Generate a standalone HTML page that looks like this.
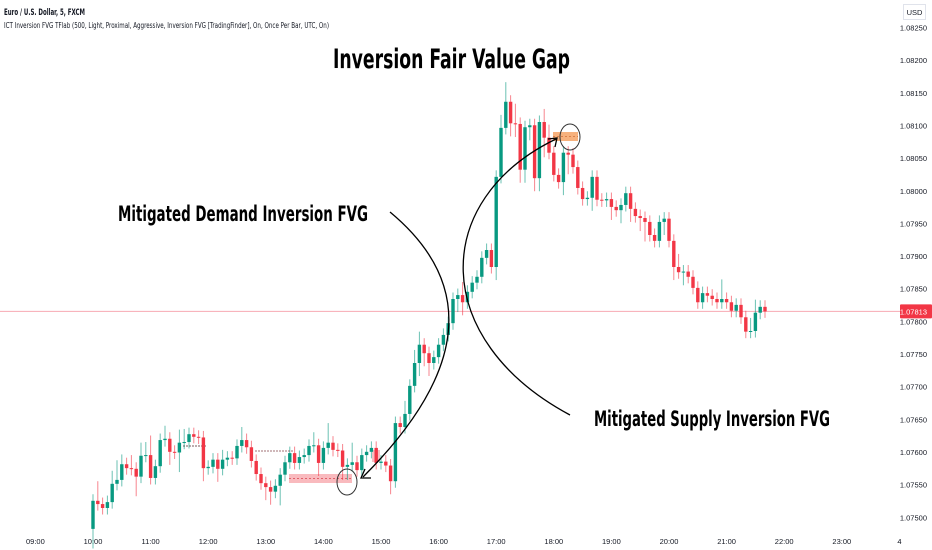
<!DOCTYPE html>
<html><head><meta charset="utf-8"><style>
html,body{margin:0;padding:0;background:#fff;}
svg{display:block;font-family:"Liberation Sans",sans-serif;}
</style></head><body>
<svg id="chart" width="932" height="550" viewBox="0 0 932 550">
<rect x="0" y="0" width="932" height="550" fill="#ffffff"/>
<g id="axes"></g>
<g id="zones"></g>
<g id="candles"></g>
<g id="annot"></g>
</svg>
<script>
const closes=[1.07523,1.07518,1.07512,1.07521,1.07549,1.07555,1.07579,1.07573,1.07572,1.07560,1.07592,1.07593,1.07558,1.07576,1.07616,1.07618,1.07598,1.07597,1.07612,1.07613,1.07625,1.07621,1.07620,1.07573,1.07575,1.07586,1.07572,1.07586,1.07589,1.07588,1.07607,1.07616,1.07605,1.07584,1.07564,1.07550,1.07544,1.07537,1.07546,1.07563,1.07582,1.07596,1.07581,1.07590,1.07593,1.07607,1.07608,1.07581,1.07604,1.07612,1.07601,1.07600,1.07575,1.07578,1.07582,1.07570,1.07593,1.07598,1.07604,1.07581,1.07583,1.07577,1.07553,1.07642,1.07636,1.07656,1.07699,1.07734,1.07762,1.07749,1.07734,1.07743,1.07762,1.07777,1.07795,1.07832,1.07838,1.07827,1.07843,1.07857,1.07866,1.07895,1.07907,1.07881,1.08019,1.08094,1.08134,1.08101,1.08100,1.08030,1.08095,1.08098,1.08017,1.08103,1.08079,1.08056,1.08022,1.08011,1.08056,1.08053,1.08034,1.08002,1.07985,1.07987,1.08019,1.07984,1.07983,1.07985,1.07973,1.07968,1.07976,1.07994,1.07970,1.07959,1.07956,1.07950,1.07930,1.07921,1.07950,1.07955,1.07921,1.07881,1.07873,1.07874,1.07866,1.07849,1.07827,1.07841,1.07837,1.07832,1.07827,1.07832,1.07827,1.07814,1.07823,1.07804,1.07782,1.07783,1.07811,1.07820,1.07813];
const firstOpen=1.07480;
const upWickPips=[1,3,1,1,2,3,1.5,1,2,1,2,2,3,1,1,2,1,1,2,2,1,1,1,1,1,1,1,1.5,1,1,1,2,1,1,1,1,1,1,1,1,1,1,1,1,1,1,2,1,1,3,1,1,1,1,3,1,1,1,1,1,1,1,1,1,1,2,1,2,2,1,1,1,1,1,1,1,1,2,1,1,1,1,1,1,1,2,3,1,3,1,1,1,1,1,2,2,1,1,1,1,1,1,1,1,1,1,1,1,1,1,1,1,1,1,1,1,1,1,1,1,1,1,2,1,1,1,1,1,1,1,1,3,1,1,1,1,1,2,2,1,1];
const downWickPips=[3,1,1,1,1,1,1,1,1,3,1,1,1,1,1,1,2,1,3,1,1,1,1,2,1,1,2,1,1,1,1,1,1,1,1,1,2,2,1,3,1,1,1,1,1,1,1,2,1,1,1,1,2,2,1,1,1,1,1,1,1,1,2,1,1,1,1,1,2,2,2,1,1,1,1,1,2,2,1,1,1,1,1,1,2,1,1,2,2,2,2,2,2,2,3,1,1,1,2,3,1,1,1,1,2,1,1,1,2,1,2,1,2,1,2,3,1,1,1,2,1,2,1,2,1,1,1,1,1,1,1,1,1,1,1,1,1,1,1,1,1];
const priceTicks=["1.08250","1.08200","1.08150","1.08100","1.08050","1.08000","1.07950","1.07900","1.07850","1.07800","1.07750","1.07700","1.07650","1.07600","1.07550","1.07500"];
const timeLabels=["09:00","10:00","11:00","12:00","13:00","14:00","15:00","16:00","17:00","18:00","19:00","20:00","21:00","22:00","23:00","4"];
const lastPrice=1.07813;

const NS="http://www.w3.org/2000/svg";
function yOf(p){return 26+(1.0825-p)*65310;}
function xOf(i){return 93+i*4.8;}
function hourX(k){return 35.4+k*57.6;}
function mk(tag,attrs,parent){const e=document.createElementNS(NS,tag);for(const k in attrs)e.setAttribute(k,attrs[k]);parent.appendChild(e);return e;}
const axes=document.getElementById('axes');
const cg=document.getElementById('candles');

priceTicks.forEach(t=>{
  const tx=mk('text',{x:927,y:yOf(parseFloat(t))+4.5,'font-size':'7.5','fill':'#131722','text-anchor':'end'},axes);
  tx.textContent=t;
  
  
});
timeLabels.forEach((t,k)=>{
  const tx=mk('text',{x:hourX(k),y:544,'font-size':'7.5','fill':'#131722','text-anchor':'middle'},axes);
  tx.textContent=t;
  
  
});
const ub=mk('rect',{x:903.5,y:4.5,width:22,height:15,fill:'#fff',stroke:'#e0e3eb'},axes);


const ut=mk('text',{x:914.5,y:15,'font-size':'7.5','fill':'#131722','text-anchor':'middle'},axes);
ut.textContent='USD';



const ly=yOf(lastPrice);
const pl=mk('line',{x1:0,x2:900,y1:ly,y2:ly,stroke:'#f7a9b3','stroke-width':1},axes);


const pr=mk('rect',{x:900,y:ly-7,width:32,height:14,fill:'#f23645',rx:1},axes);


const pt=mk('text',{x:927,y:ly+3,'font-size':'7.5','fill':'#fff','text-anchor':'end'},axes);
pt.textContent=lastPrice.toFixed(5);



closes.forEach((c,i)=>{
  const o=i===0?firstOpen:closes[i-1];
  const hi=Math.max(o,c)+upWickPips[i]/10000;
  const lo=Math.min(o,c)-downWickPips[i]/10000;
  const col=c>=o?'#089981':'#f23645';
  const x=xOf(i);
  const w=mk('line',{x1:x,x2:x,y1:yOf(hi),y2:yOf(lo),stroke:col,'stroke-width':1,'stroke-opacity':0.6},cg);
  
  
  const yt=yOf(Math.max(o,c)),yb=yOf(Math.min(o,c));
  const b=mk('rect',{x:x-1.7,y:yt,width:3.4,height:Math.max(1,yb-yt),fill:col},cg);
  
  
});
</script>
<script>
(function(){
const NS="http://www.w3.org/2000/svg";
const zones=document.getElementById('zones');
const ann=document.getElementById('annot');
function mk(tag,attrs,parent){const e=document.createElementNS(NS,tag);for(const k in attrs)e.setAttribute(k,attrs[k]);parent.appendChild(e);return e;}
let e;
e=mk('rect',{x:289,y:474,width:63,height:9,fill:'#f7a3a8','fill-opacity':0.75},zones);


e=mk('line',{x1:289,x2:352,y1:478.5,y2:478.5,stroke:'#e0606a','stroke-dasharray':'2 2'},zones);


e=mk('rect',{x:553,y:132,width:25,height:9,fill:'#f4a366','fill-opacity':0.85},zones);


e=mk('line',{x1:553,x2:578,y1:136.5,y2:136.5,stroke:'#d9804a','stroke-dasharray':'2 2'},zones);


e=mk('rect',{x:372,y:450,width:8,height:12,fill:'#f7a3a8','fill-opacity':0.7},zones);


e=mk('line',{x1:183,x2:206,y1:446,y2:446,stroke:'#7a5a5e','stroke-dasharray':'2 1'},zones);


e=mk('line',{x1:255,x2:294,y1:451,y2:451,stroke:'#a07075','stroke-dasharray':'2 1'},zones);



e=mk('path',{d:'M390,212 Q520,320 363,477',fill:'none',stroke:'#000','stroke-width':1.3},ann);


e=mk('path',{d:'M371,478 L361,478 L365,469',fill:'none',stroke:'#000','stroke-width':1.3},ann);


e=mk('path',{d:'M570,415 C430,340 430,200 556,139',fill:'none',stroke:'#000','stroke-width':1.3},ann);


e=mk('path',{d:'M548,139 L557,138 L555,147',fill:'none',stroke:'#000','stroke-width':1.3},ann);


e=mk('ellipse',{cx:570,cy:137,rx:10,ry:13,fill:'none',stroke:'#333','stroke-width':1},ann);


e=mk('ellipse',{cx:347,cy:482,rx:10,ry:13,fill:'none',stroke:'#333','stroke-width':1},ann);



function txt(s,attrs,name){const t=mk('text',attrs,ann);t.textContent=s;}
const cond='"Liberation Sans Narrow","DejaVu Sans Condensed","Liberation Sans",sans-serif';
txt('Inversion Fair Value Gap',{x:333,y:68,'font-size':'27','font-weight':'bold','font-family':cond,textLength:237,lengthAdjust:'spacingAndGlyphs',fill:'#000'},'chart-title');
txt('Mitigated Demand Inversion FVG',{x:118,y:221,'font-size':'21','font-weight':'bold','font-family':cond,textLength:250,lengthAdjust:'spacingAndGlyphs',fill:'#000'},'demand-label');
txt('Mitigated Supply Inversion FVG',{x:594,y:426,'font-size':'21','font-weight':'bold','font-family':cond,textLength:236,lengthAdjust:'spacingAndGlyphs',fill:'#000'},'supply-label');
txt('Euro / U.S. Dollar, 5, FXCM',{x:4,y:15,'font-size':'8.5','font-weight':'bold','font-family':cond,textLength:81,lengthAdjust:'spacingAndGlyphs',fill:'#131722'},'symbol-title');
txt('ICT Inversion FVG TFlab (500, Light, Proximal, Aggressive, Inversion FVG [TradingFinder], On, Once Per Bar, UTC, On)',{x:4,y:28,'font-size':'8','font-family':cond,textLength:325,lengthAdjust:'spacingAndGlyphs',fill:'#131722'},'indicator-legend');
})();
</script>
</body></html>
